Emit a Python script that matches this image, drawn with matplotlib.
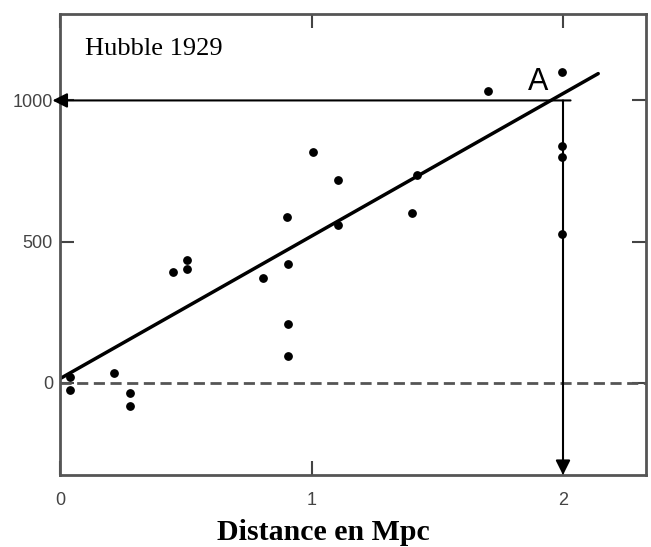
import numpy as np
import matplotlib.pyplot as plt

# Hubble 1929 points (distance in Mpc, velocity in km/s)
distance = [0.04, 0.04, 0.215, 0.28, 0.28, 0.45, 0.505, 0.505, 0.807, 0.904,
            0.906, 0.906, 0.906, 1.006, 1.105, 1.105, 1.40, 1.42, 1.70,
            1.995, 1.995, 1.995, 1.995]
velocity = [21, -25, 35, -35, -81, 393, 435, 404, 372, 588,
            421, 209, 96, 818, 719, 559, 602, 735, 1034,
            1101, 839, 800, 527]

fit_x = [0.0, 2.14]
fit_y = [15, 1095]

point_A = (2.0, 1000)
xticks = [0, 1, 2]
yticks = [0, 500, 1000]

fig = plt.figure(figsize=(6.51, 5.47), dpi=100)
ax = fig.add_axes([60 / 651, 72 / 547, 586 / 651, 461 / 547])

ax.set_xlim(0, 2.33)
ax.set_ylim(-326, 1306)

ax.axhline(0, color='#555555', lw=2, linestyle=(0, (4, 2)))
ax.plot(fit_x, fit_y, color='black', lw=2.5, solid_capstyle='round')
ax.scatter(distance, velocity, s=28, color='black', zorder=3)

# arrows from the line to the axes
ax.annotate('', xy=(-0.03, point_A[1]), xytext=(2.03, point_A[1]),
            arrowprops=dict(arrowstyle='-|>', color='black', lw=1.5,
                            mutation_scale=22, shrinkA=0, shrinkB=0),
            annotation_clip=False)
ax.annotate('', xy=(point_A[0], -326), xytext=(point_A[0], point_A[1]),
            arrowprops=dict(arrowstyle='-|>', color='black', lw=1.5,
                            mutation_scale=22, shrinkA=0, shrinkB=0),
            annotation_clip=False)

ax.text(0.816, 0.852, 'A', transform=ax.transAxes, ha='center', va='center',
        fontsize=22, family='Liberation Sans')
ax.text(0.043, 0.911, 'Hubble 1929', transform=ax.transAxes, ha='left',
        va='baseline', fontsize=19, family='Liberation Serif')

ax.set_xticks(xticks)
ax.set_yticks(yticks)
ax.set_xticklabels([str(t) for t in xticks])
ax.set_yticklabels([str(t) for t in yticks])
ax.tick_params(direction='in', length=10, width=1.5, color='#444444',
               top=True, right=True, labelsize=13, labelcolor='#444444',
               labelfontfamily='Liberation Sans')
ax.tick_params(axis='x', pad=12)
ax.tick_params(axis='y', pad=5)

for sp in ax.spines.values():
    sp.set_color('#555555')
    sp.set_linewidth(2)

fig.text(323 / 651, 7 / 547, 'Distance en Mpc', ha='center', va='baseline',
         fontsize=21.5, fontweight='bold', family='Liberation Serif')

fig.savefig('out.png', dpi=100)
